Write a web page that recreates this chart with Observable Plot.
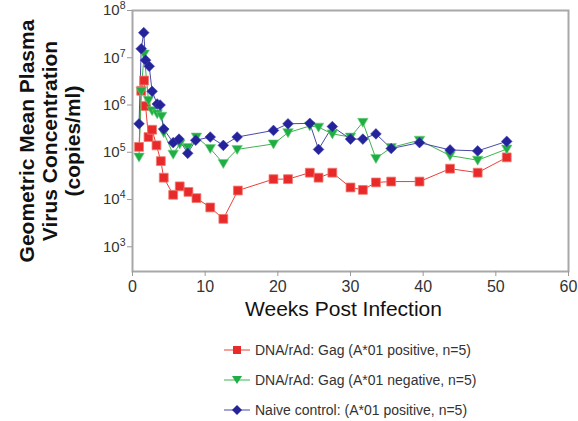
<!DOCTYPE html>
<html><head><meta charset="utf-8">
<script src="https://cdn.jsdelivr.net/npm/d3@7"></script>
<script src="https://cdn.jsdelivr.net/npm/@observablehq/plot@0.6"></script>
<style>
body{margin:0;background:#fff;font-family:"Liberation Sans",Arial,sans-serif;}
#wrap{position:relative;width:578px;height:421px;overflow:hidden;}
#legend{position:absolute;left:223px;top:335px;}
.row{height:30px;display:flex;align-items:center;font-size:14px;color:#333;white-space:nowrap}
.row svg{margin-right:4px}
</style></head><body><div id="wrap"><div id="chart"></div><div id="legend"></div></div>
<script>
// Weeks post infection and geometric mean plasma virus (copies/ml)
const weeksRed = [0.9,1.2,1.6,1.8,2.2,2.7,3.3,3.9,4.3,5.6,6.5,7.7,8.8,10.7,12.5,14.5,19.4,21.4,24.4,25.6,27.5,30.0,31.7,33.5,35.6,39.5,43.7,47.5,51.5];
const virusRed = [1.3e5,2.0e6,3.3e6,9.5e5,2.1e5,3.0e5,1.4e5,6.5e4,2.9e4,1.26e4,1.9e4,1.45e4,1.07e4,6.8e3,3.9e3,1.55e4,2.7e4,2.7e4,3.7e4,2.9e4,3.7e4,1.8e4,1.6e4,2.3e4,2.4e4,2.4e4,4.5e4,3.7e4,7.8e4];

const weeksGreen = [0.9,1.2,1.6,2.2,2.7,3.4,4.0,4.3,5.6,6.5,7.6,8.8,10.7,12.5,14.4,19.4,21.4,24.4,25.6,27.5,30.0,31.7,33.5,35.6,39.5,43.7,47.5,51.5];
const virusGreen = [7.9e4,1.95e6,1.2e7,1.26e6,7.6e5,6.5e5,5.8e5,2.6e5,9.1e4,1.5e5,1.26e5,2.1e5,1.2e5,5.8e4,1.15e5,1.5e5,2.6e5,3.6e5,3.4e5,2.45e5,2.1e5,4.3e5,7.4e4,1.26e5,1.8e5,8.5e4,6.8e4,1.17e5];

const weeksBlue = [0.9,1.2,1.55,1.8,2.3,2.7,3.4,3.8,4.3,5.6,6.4,7.6,8.7,10.7,12.5,14.4,19.4,21.4,24.4,25.6,27.5,30.0,31.7,33.5,35.6,39.5,43.7,47.5,51.5];
const virusBlue = [4.0e5,1.55e7,3.4e7,8.9e6,6.6e6,1.95e6,1.05e6,1.0e6,3.1e5,1.6e5,1.9e5,9.5e4,1.8e5,2.1e5,1.4e5,2.1e5,2.9e5,4.0e5,4.1e5,1.15e5,3.5e5,1.9e5,1.9e5,2.45e5,1.2e5,1.6e5,1.12e5,1.07e5,1.7e5];

const seriesNames = ["DNA/rAd: Gag (A*01 positive, n=5)","DNA/rAd: Gag (A*01 negative, n=5)","Naive control: (A*01 positive, n=5)"];
const xTicks = [0,10,20,30,40,50,60];
const yTicks = [1e3,1e4,1e5,1e6,1e7,1e8];
const yLabel = "Geometric Mean Plasma\nVirus Concentration\n(copies/ml)";
const xLabel = "Weeks Post Infection";

const colors = {red:{line:"#e8403a",fill:"#e82a2a"},green:{line:"#3fb34f",fill:"#1fae45"},blue:{line:"#4a4aa8",fill:"#24239a"}};

const toRows = (w, v) => w.map((x, i) => ({x, y: v[i]}));
const red = toRows(weeksRed, virusRed);
const green = toRows(weeksGreen, virusGreen);
const blue = toRows(weeksBlue, virusBlue);

const triangleDown = {draw(ctx, size){const r = Math.sqrt(size/Math.PI); ctx.moveTo(-r*1.05,-r*0.8); ctx.lineTo(r*1.05,-r*0.8); ctx.lineTo(0,r*1.0); ctx.closePath();}};
const fmtPow = d => "10^" + Math.round(Math.log10(d));

const chart = Plot.plot({
  width: 578, height: 330,
  marginTop: 10, marginBottom: 59, marginLeft: 132, marginRight: 10,
  style: {fontFamily: "'Liberation Sans', Arial, sans-serif", background: "white", overflow: "visible"},
  x: {domain: [0, 60]},
  y: {type: "log", domain: [300, 1e8]},
  marks: [
    Plot.frame({stroke: "#a8a8a8", strokeWidth: 2}),
    Plot.axisX({ticks: xTicks, tickSize: 5, tickPadding: 4, fontSize: 16, stroke: "#999", fill: "#333", label: null, tickFormat: d => String(d)}),
    Plot.axisY({ticks: yTicks, tickSize: 5, tickPadding: 2, fontSize: 15, stroke: "#999", fill: "#333", label: null, tickFormat: fmtPow}),
    Plot.line(red, {x: "x", y: "y", stroke: colors.red.line, strokeWidth: 1}),
    Plot.line(green, {x: "x", y: "y", stroke: colors.green.line, strokeWidth: 1}),
    Plot.line(blue, {x: "x", y: "y", stroke: colors.blue.line, strokeWidth: 1}),
    Plot.dot(red, {x: "x", y: "y", symbol: "square", r: 5, fill: colors.red.fill, stroke: "#f07a70", strokeWidth: 0.8}),
    Plot.dot(green, {x: "x", y: "y", symbol: triangleDown, r: 5, fill: colors.green.fill, stroke: "#6fd07a", strokeWidth: 0.6}),
    Plot.dot(blue, {x: "x", y: "y", symbol: "diamond2", r: 4.8, fill: colors.blue.fill, stroke: "#3c3cb0", strokeWidth: 0.6}),
    Plot.text([yLabel], {text: d => d, frameAnchor: "left", rotate: -90, dx: -83, fontSize: 21, fontWeight: "bold", lineHeight: 1.1, textAnchor: "middle", lineAnchor: "middle", fill: "#111"}),
    Plot.text([xLabel], {text: d => d, frameAnchor: "bottom", dx: -7, dy: 38, fontSize: 21, textAnchor: "middle", lineAnchor: "middle", fill: "#111"})
  ]
});
document.getElementById("chart").appendChild(chart);

// Render y tick labels "10^n" with a raised superscript exponent
chart.querySelectorAll('g[aria-label="y-axis tick label"] text').forEach(t => {
  const s = t.textContent;
  if (s.includes("^")) {
    const [base, exp] = s.split("^");
    t.textContent = "";
    const b = document.createElementNS("http://www.w3.org/2000/svg", "tspan");
    b.textContent = base;
    const e = document.createElementNS("http://www.w3.org/2000/svg", "tspan");
    e.textContent = exp;
    e.setAttribute("dy", "-6");
    e.setAttribute("font-size", "10.5");
    t.appendChild(b); t.appendChild(e);
  }
});

// Legend
const legend = document.getElementById("legend");
const legendSym = [
  `<rect x="10" y="3" width="8" height="8" fill="${colors.red.fill}"/>`,
  `<path d="M9,3 L19,3 L14,11 Z" fill="${colors.green.fill}"/>`,
  `<path d="M14,2 L19,7 L14,12 L9,7 Z" fill="${colors.blue.fill}"/>`
];
const legendLine = [colors.red.line, colors.green.line, colors.blue.line];
seriesNames.forEach((name, i) => {
  const row = document.createElement("div");
  row.className = "row";
  row.innerHTML = `<svg width="28" height="14"><line x1="1" x2="27" y1="7" y2="7" stroke="${legendLine[i]}" stroke-width="1"/>${legendSym[i]}</svg><span>${name}</span>`;
  legend.appendChild(row);
});
</script>
</body></html>
